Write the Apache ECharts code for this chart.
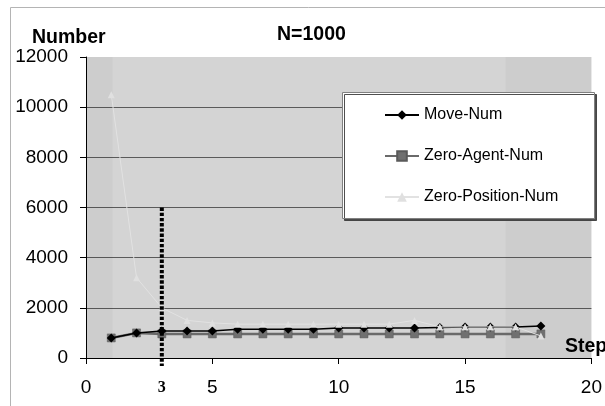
<!DOCTYPE html>
<html>
<head>
<meta charset="utf-8">
<script src="https://cdn.jsdelivr.net/npm/echarts@6/dist/echarts.min.js"></script>
<style>
  html, body { margin: 0; padding: 0; background: #fff; }
  #chart { width: 605px; height: 406px; }
</style>
</head>
<body>
<div id="chart"></div>
<script>
// Simulation steps and counts per step (N = 1000 agents)
const steps = [1, 2, 3, 4, 5, 6, 7, 8, 9, 10, 11, 12, 13, 14, 15, 16, 17, 18];
const moveNum = [800, 1000, 1080, 1080, 1080, 1150, 1150, 1150, 1150, 1200, 1200, 1200, 1200, 1220, 1240, 1240, 1240, 1280];
const zeroAgentNum = [800, 1000, 960, 960, 960, 960, 960, 960, 960, 960, 960, 960, 960, 960, 960, 960, 960, 960];
const zeroPositionNum = [10500, 3200, 2000, 1500, 1400, 1350, 1350, 1350, 1350, 1350, 1350, 1350, 1500, 1240, 1240, 1240, 1240, 880];

const seriesNames = ['Move-Num', 'Zero-Agent-Num', 'Zero-Position-Num'];
const xTickValues = [0, 5, 10, 15, 20];
const xLabelValues = [0, 3, 5, 10, 15, 20];
const markedStep = 3;
const markedTop = 6000;

const pair = (xs, ys) => xs.map((x, i) => [x, ys[i]]);
const FONT = 'Liberation Sans';

const chart = echarts.init(document.getElementById('chart'), null, { renderer: 'canvas' });

chart.setOption({
  animation: false,
  backgroundColor: '#ffffff',
  grid: {
    left: 86, top: 57, right: 8, bottom: 48,
    show: true, backgroundColor: '#d4d4d4', borderWidth: 0
  },
  graphic: [
    { type: 'rect', z: -10, silent: true,
      shape: { x: 10.5, y: 7.5, width: 700, height: 500 },
      style: { fill: 'none', stroke: '#b4b4b4', lineWidth: 1 } },
    { type: 'text', z: 10, left: 32, top: 28,
      style: { text: 'Number', font: 'bold 19.5px "Liberation Sans"', fill: '#000' } },
    { type: 'text', z: 10, left: 277, top: 25,
      style: { text: 'N=1000', font: 'bold 19.5px "Liberation Sans"', fill: '#000' } },
    { type: 'text', z: 10, left: 565, top: 337,
      style: { text: 'Step', font: 'bold 19.5px "Liberation Sans"', fill: '#000' } },
    { type: 'rect', z: 5, silent: true,
      shape: { x: 342.5, y: 92.5, width: 252, height: 126 },
      style: { fill: '#ffffff', stroke: '#808080', lineWidth: 1,
               shadowColor: 'rgba(60,60,60,0.9)', shadowOffsetX: 2, shadowOffsetY: 2, shadowBlur: 0 } }
  ],
  legend: {
    z: 20,
    orient: 'vertical',
    left: 384, top: 106,
    padding: 0,
    itemWidth: 34, itemHeight: 12, itemGap: 23, itemTextGap: 4,
    data: seriesNames,
    textStyle: { fontFamily: FONT, fontSize: 16, color: '#000', lineHeight: 18 }
  },
  xAxis: {
    type: 'value', min: 0, max: 20, interval: 5,
    axisLine: { show: true, onZero: false, lineStyle: { color: '#000', width: 1 } },
    axisTick: { show: true, length: 6, customValues: xTickValues, lineStyle: { color: '#000' } },
    axisLabel: {
      customValues: xLabelValues,
      margin: 19,
      fontFamily: FONT, fontSize: 19, color: '#000', lineHeight: 22,
      formatter: v => (v === markedStep ? '{s|' + v + '}' : String(v)),
      rich: { s: { fontFamily: 'Liberation Serif', fontWeight: 'bold', fontSize: 16, lineHeight: 22, color: '#000' } }
    },
    splitLine: { show: false }
  },
  yAxis: {
    type: 'value', min: 0, max: 12000, interval: 2000,
    axisLine: { show: true, lineStyle: { color: '#000', width: 1 } },
    axisTick: { show: true, length: 6, lineStyle: { color: '#000' } },
    axisLabel: { margin: 18, fontFamily: FONT, fontSize: 19, color: '#000', formatter: v => String(v) },
    splitLine: {
      show: true,
      lineStyle: { color: ['#000', '#5a5a5a', '#5a5a5a', '#5a5a5a', '#5a5a5a', '#5a5a5a', 'rgba(0,0,0,0)'], width: 1 }
    }
  },
  series: [
    {
      name: 'Zero-Agent-Num', type: 'line', z: 2,
      data: pair(steps, zeroAgentNum),
      symbol: 'rect', symbolSize: 8,
      lineStyle: { color: '#6a6a6a', width: 2.5 },
      itemStyle: { color: '#707070', borderColor: '#5a5a5a', borderWidth: 0.5 },
      markArea: {
        silent: true,
        itemStyle: { color: 'rgba(0,0,0,0.03)' },
        data: [
          [{ xAxis: 0 }, { xAxis: 1.05 }],
          [{ xAxis: 16.6 }, { xAxis: 20 }]
        ]
      }
    },
    {
      name: 'Move-Num', type: 'line', z: 3,
      data: pair(steps, moveNum),
      symbol: 'diamond', symbolSize: 9,
      lineStyle: { color: '#000', width: 1.5 },
      itemStyle: { color: '#000' }
    },
    {
      name: 'Zero-Position-Num', type: 'line', z: 4,
      data: pair(steps, zeroPositionNum),
      symbol: 'triangle', symbolSize: 7,
      lineStyle: { color: '#e2e2e2', width: 1 },
      itemStyle: { color: '#e0e0e0' }
    },
    {
      // dotted marker at the highlighted step, running past the x axis
      name: 'marker', type: 'custom', z: 6, silent: true, clip: false,
      data: [[markedStep, markedTop]],
      renderItem: (params, api) => {
        const top = api.coord([api.value(0), api.value(1)]);
        const base = api.coord([api.value(0), 0]);
        return {
          type: 'line',
          shape: { x1: top[0], y1: top[1], x2: base[0], y2: base[1] + 8 },
          style: { stroke: '#000', lineWidth: 4, lineDash: [3.4, 1.8] }
        };
      }
    }
  ]
});
</script>
</body>
</html>
